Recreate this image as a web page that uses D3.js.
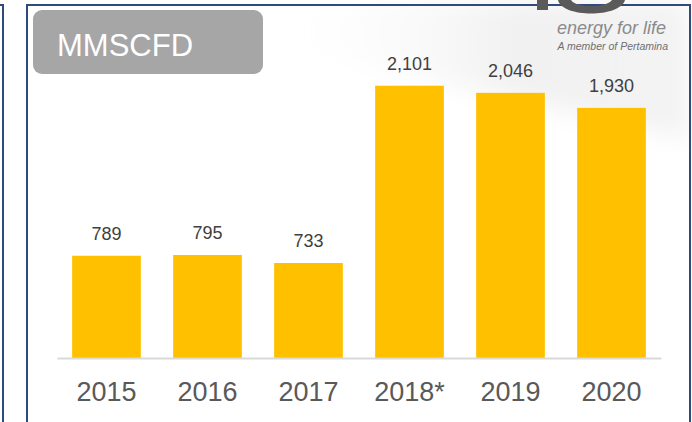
<!DOCTYPE html>
<html>
<head>
<meta charset="utf-8">
<script src="https://cdn.jsdelivr.net/npm/d3@7"></script>
<style>
  body { margin: 0; background: #fff; }
  svg { display: block; font-family: "Liberation Sans", Arial, sans-serif; }
</style>
</head>
<body>
<svg id="chart" width="692" height="422"></svg>
<script>
// data
const years = ["2015", "2016", "2017", "2018*", "2019", "2020"];
const values = [789, 795, 733, 2101, 2046, 1930];
const valueLabels = ["789", "795", "733", "2,101", "2,046", "1,930"];
const unitLabel = "MMSCFD";

const svg = d3.select("#chart");
const baseY = 358;

// soft grey swoosh behind the logo
const defs = svg.append("defs");
const grad = defs.append("linearGradient").attr("id", "swoosh")
  .attr("x1", "0%").attr("y1", "0%").attr("x2", "100%").attr("y2", "0%");
grad.append("stop").attr("offset", "0%").attr("stop-color", "#fff").attr("stop-opacity", 0);
grad.append("stop").attr("offset", "60%").attr("stop-color", "#e8e8e8").attr("stop-opacity", 0.6);
grad.append("stop").attr("offset", "100%").attr("stop-color", "#eeeeee").attr("stop-opacity", 0.7);
defs.append("filter").attr("id", "blur").append("feGaussianBlur").attr("stdDeviation", 12);

svg.append("path")
  .attr("d", "M250,40 C380,70 480,90 690,140 L690,0 L300,0 Z")
  .attr("fill", "url(#swoosh)")
  .attr("filter", "url(#blur)");

// frames
svg.append("path").attr("d", "M0,5 L3,5 L3,422")
  .attr("fill", "none").attr("stroke", "#2f4a7c").attr("stroke-width", 2);
svg.append("path").attr("d", "M27,422 L27,5 L690,5 L690,422")
  .attr("fill", "none").attr("stroke", "#2f4a7c").attr("stroke-width", 2);

// logo fragments (cut off at the top)
svg.append("path").attr("d", "M537,0 L537,10 L548,10 L548,0 Z M558,0 C562,18 620,18 625,0 L612,0 C606,8 576,8 571,0 Z")
  .attr("fill", "#5a5a5a");
svg.append("text").attr("x", 666).attr("y", 34).attr("text-anchor", "end")
  .attr("font-style", "italic").attr("font-size", 18).attr("fill", "#8a8a8a")
  .text("energy for life");
svg.append("text").attr("x", 668).attr("y", 50).attr("text-anchor", "end")
  .attr("font-style", "italic").attr("font-size", 10.5).attr("fill", "#6f6f6f")
  .text("A member of Pertamina");

// scales
const x = d3.scaleBand().domain(years).range([57, 661]).paddingInner(0.32).paddingOuter(0.15);
const y = d3.scaleLinear().domain([0, 2500]).range([baseY, 34]);

svg.selectAll(".bar").data(values).enter().append("rect")
  .attr("class", "bar")
  .attr("x", (d, i) => x(years[i]))
  .attr("y", d => y(d))
  .attr("width", x.bandwidth())
  .attr("height", d => baseY - y(d))
  .attr("fill", "#ffc000");

svg.selectAll(".val").data(values).enter().append("text")
  .attr("class", "val")
  .attr("x", (d, i) => x(years[i]) + x.bandwidth() / 2)
  .attr("y", d => y(d) - 16)
  .attr("text-anchor", "middle")
  .attr("font-size", 18)
  .attr("fill", "#404040")
  .text((d, i) => valueLabels[i]);

// x axis
const axis = svg.append("g").attr("transform", `translate(0,${baseY})`)
  .call(d3.axisBottom(x).tickSize(0).tickPadding(24));
axis.select(".domain").attr("stroke", "#d9d9d9").attr("stroke-width", 2);
axis.selectAll("text").attr("font-size", 27).attr("fill", "#595959")
  .attr("font-family", "Liberation Sans, Arial, sans-serif");

// unit badge
svg.append("rect").attr("x", 33).attr("y", 10).attr("width", 230).attr("height", 64)
  .attr("rx", 9).attr("fill", "#a6a6a6");
svg.append("text").attr("x", 57).attr("y", 56).attr("font-size", 31)
  .attr("fill", "#fff").text(unitLabel);
</script>
</body>
</html>
